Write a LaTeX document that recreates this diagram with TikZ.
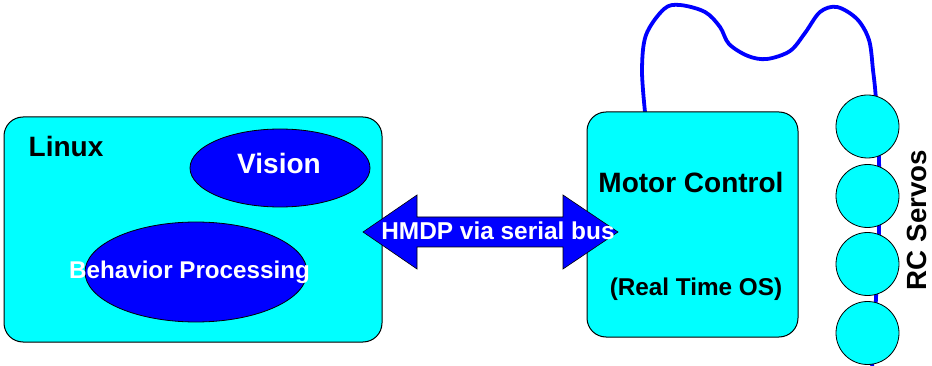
\documentclass[tikz,border=0pt]{standalone}
\usepackage{fontspec}
\setmainfont{Liberation Sans}
\usetikzlibrary{shapes.geometric}
\definecolor{cy}{RGB}{0,255,255}
\definecolor{bl}{RGB}{0,0,255}
\tikzset{
  sysbox/.style={draw=black, line width=1pt, fill=cy, rounded corners=19pt, inner sep=0pt},
  blob/.style={ellipse, draw=black, line width=0.8pt, fill=bl, inner sep=0pt},
  servo/.style={circle, draw=black, line width=0.8pt, fill=cy, inner sep=0pt, minimum size=63pt},
  lbl/.style={font=\bfseries\fontsize{28}{30}\selectfont, anchor=base, inner sep=0pt},
  wlbl/.style={lbl, text=white},
  wire/.style={draw=bl, line width=3.8pt, line cap=round, line join=round},
}
\begin{document}
\begin{tikzpicture}[x=1pt, y=-1pt]
\useasboundingbox (0,0) rectangle (932,366);
% wire behind everything
\coordinate (wstart) at (645,112);
\coordinate (wend) at (872,368);
\draw[wire] plot[smooth, tension=0.55] coordinates {(wstart) (642,70) (646,35) (664,9) (680,5) (705,12) (720,27) (729,44) (748,56) (767,59) (790,51) (805,33) (820,12) (837,7) (857,19) (869,40) (873,70) (876,100) (879,160) (879,230) (876,298) (wend)};
% boxes
\node[sysbox, minimum width=378pt, minimum height=225pt] (linux) at (193,229.5) {};
\node[sysbox, minimum width=211pt, minimum height=225pt] (motor) at (692.5,224.5) {};
\node[blob, minimum width=180pt, minimum height=78pt] (vision) at (280,168) {};
\node[blob, minimum width=222pt, minimum height=100pt] (behav) at (196,272) {};
% texts
\node[lbl] (tlinux) at (66,157) {Linux};
\node[wlbl] (tvision) at (279,174) {Vision};
\node[wlbl, font=\bfseries\fontsize{24.2}{26}\selectfont] (tbehav) at (189.5,279) {Behavior Processing};
\node[lbl] (tmotor) at (691,193) {Motor Control};
\node[lbl, font=\bfseries\fontsize{24.3}{26}\selectfont] (trtos) at (696,295) {(Real Time OS)};
% double arrow
\coordinate (al) at (363,232);
\coordinate (ar) at (618,232);
\draw[fill=bl, draw=black, line width=0.6pt, line join=miter]
  (al) -- (417,195) -- (417,217) -- (563,217) -- (563,195) -- (ar)
  -- (563,269) -- (563,247) -- (417,247) -- (417,269) -- cycle;
\node[wlbl, font=\bfseries\fontsize{24.4}{26}\selectfont] (thmdp) at (498,240) {HMDP via serial bus};
% servos
\node[servo] (s1) at (867.5,126.5) {};
\node[servo] (s2) at (867.5,196) {};
\node[servo] (s3) at (867.5,264) {};
\node[servo] (s4) at (867.5,333) {};
\node[lbl, font=\bfseries\fontsize{27.7}{30}\selectfont, rotate=90] (tservo) at (926,220) {RC Servos};
\end{tikzpicture}
\end{document}
